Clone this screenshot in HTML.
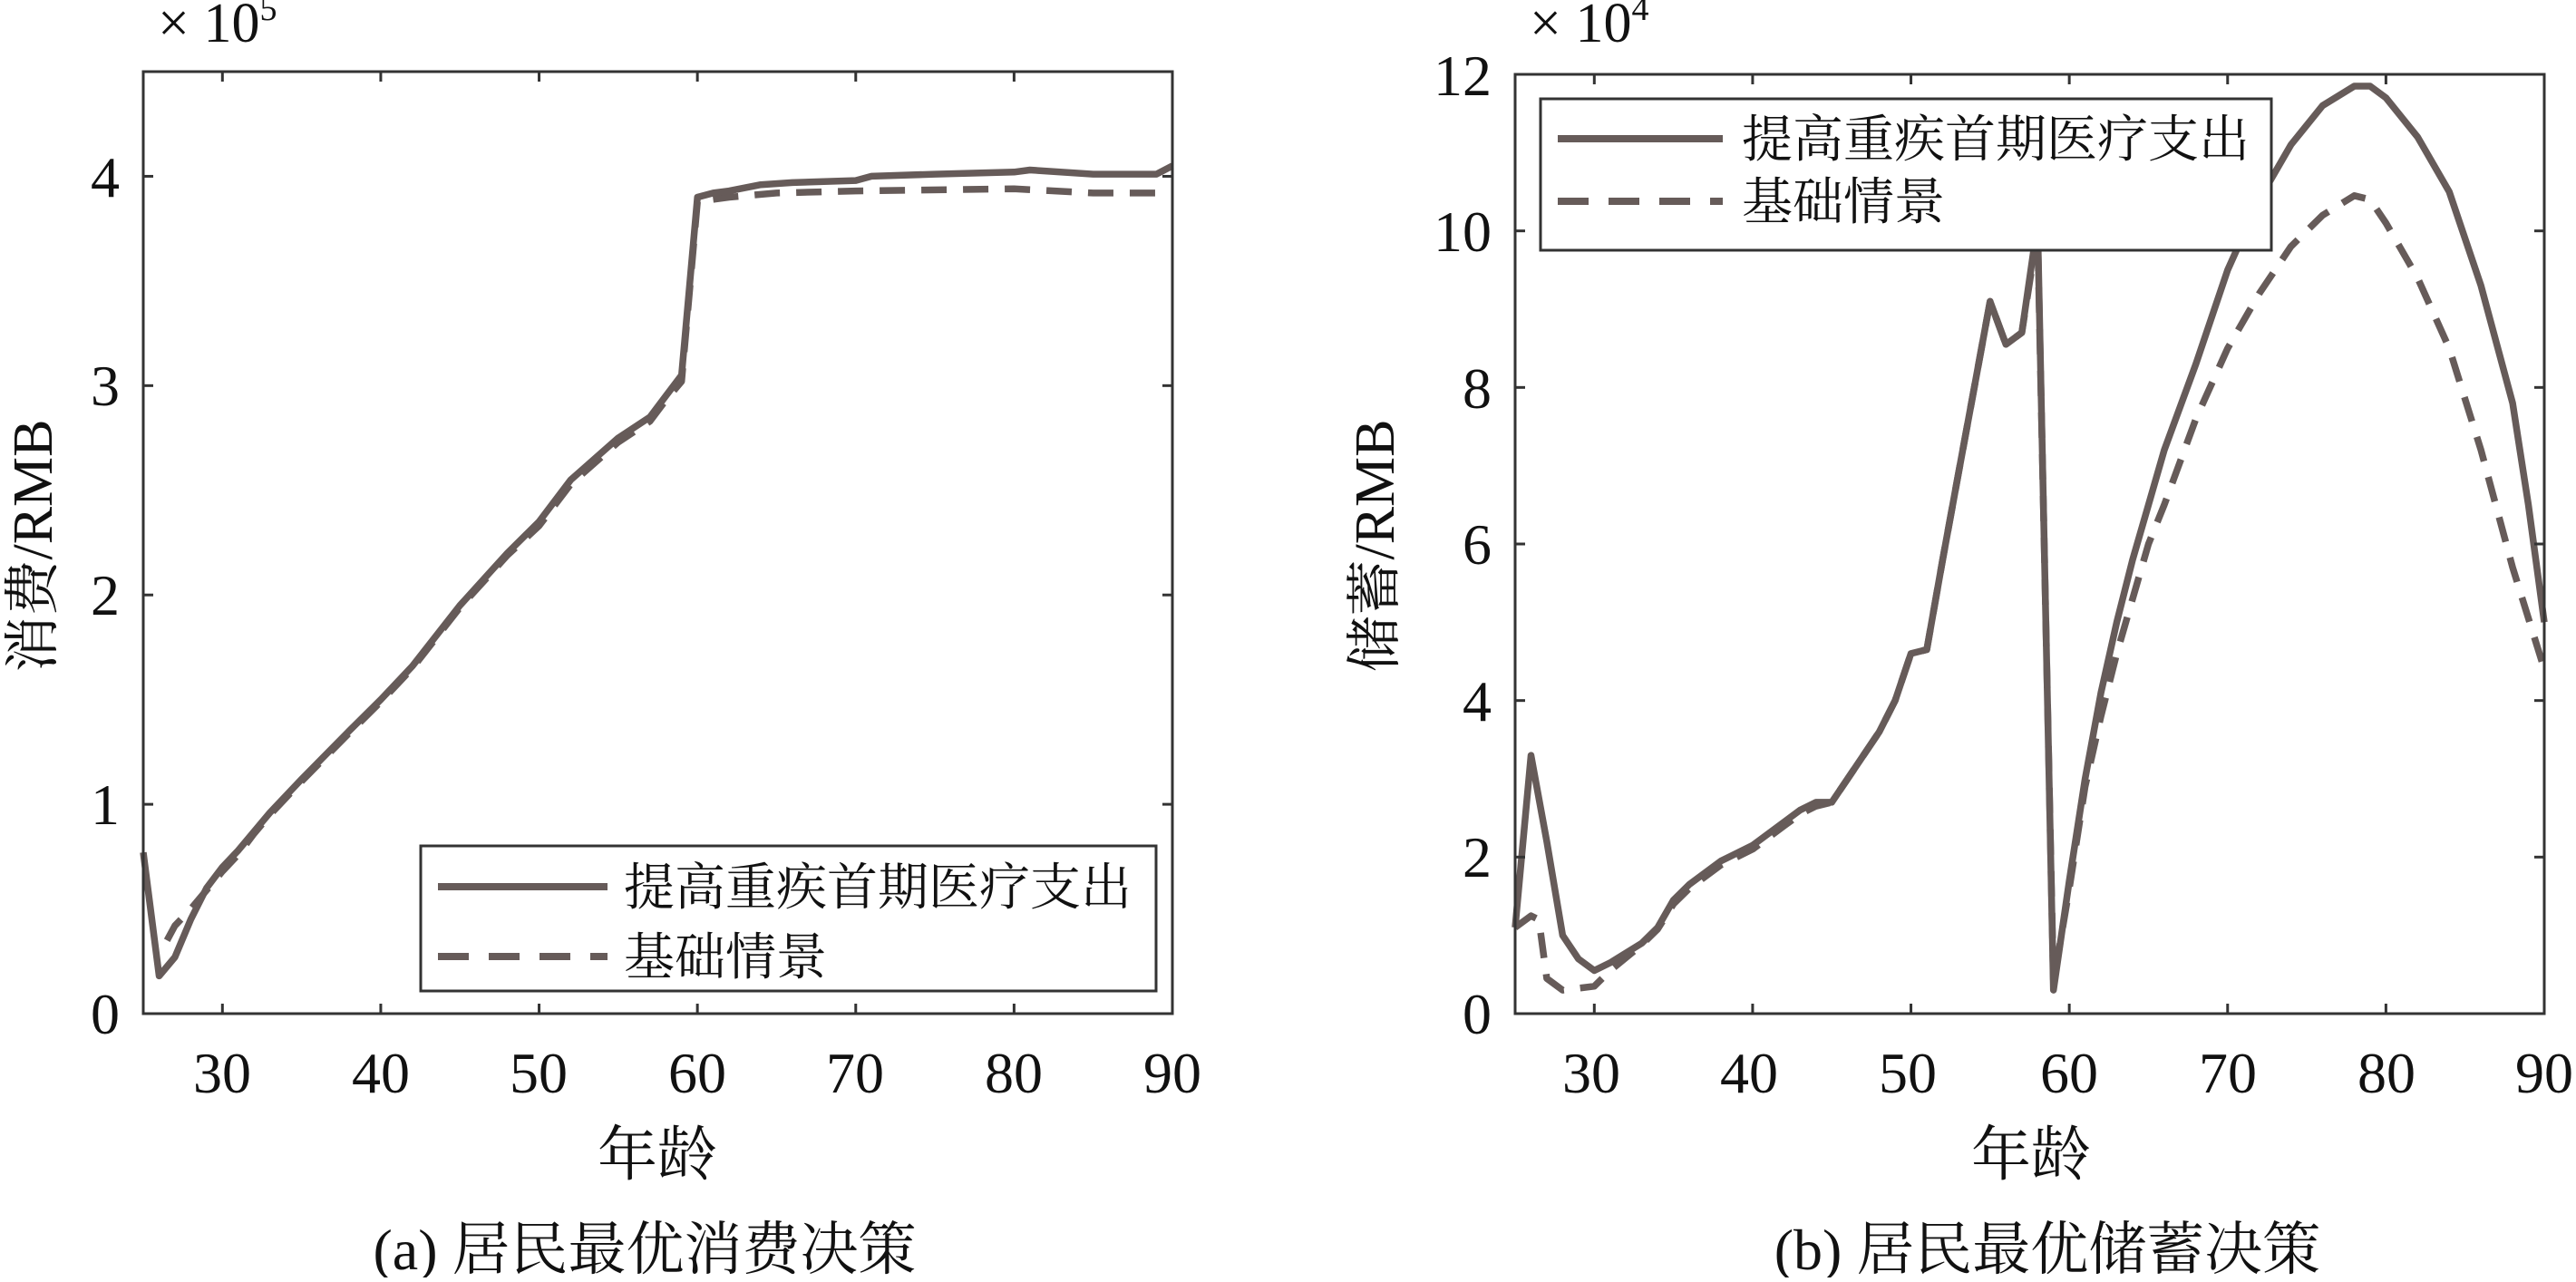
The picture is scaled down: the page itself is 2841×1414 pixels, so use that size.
<!DOCTYPE html>
<html><head><meta charset="utf-8"><style>
html,body{margin:0;padding:0;background:#fff;}
svg text{fill:#111;}
.n{font-family:"Liberation Serif","DejaVu Serif","Times New Roman",serif;}
.c{font-family:"Liberation Serif","Noto Serif CJK SC","DejaVu Serif",serif;}
</style></head><body>
<svg id="s" width="2841" height="1409" viewBox="0 0 2841 1409" xmlns="http://www.w3.org/2000/svg">
<g id="A"></g>
<g font-size="64" text-anchor="middle" class="n">
<text class="n" x="245" y="1205">30</text><text class="n" x="420" y="1205">40</text><text class="n" x="594" y="1205">50</text><text class="n" x="769" y="1205">60</text><text class="n" x="943" y="1205">70</text><text class="n" x="1118" y="1205">80</text><text class="n" x="1293" y="1205">90</text>
<text class="n" x="1755" y="1205">30</text><text class="n" x="1929" y="1205">40</text><text class="n" x="2104" y="1205">50</text><text class="n" x="2282" y="1205">60</text><text class="n" x="2457" y="1205">70</text><text class="n" x="2632" y="1205">80</text><text class="n" x="2806" y="1205">90</text>
</g>
<g font-size="64" text-anchor="end" class="n">
<text class="n" x="132" y="1140">0</text><text class="n" x="132" y="909">1</text><text class="n" x="132" y="678">2</text><text class="n" x="132" y="447">3</text><text class="n" x="132" y="217">4</text>
<text class="n" x="1645" y="1140">0</text><text class="n" x="1645" y="967">2</text><text class="n" x="1645" y="795">4</text><text class="n" x="1645" y="622">6</text><text class="n" x="1645" y="450">8</text><text class="n" x="1645" y="277">10</text><text class="n" x="1645" y="105">12</text>
</g>
<text class="n" x="174" y="46" font-size="62">× 10<tspan font-size="38" dy="-24">5</tspan></text>
<text class="n" x="1687" y="46" font-size="62">× 10<tspan font-size="38" dy="-24">4</tspan></text>
<text class="c" x="725" y="1296" font-size="66" text-anchor="middle">年龄</text>
<text class="c" x="2240" y="1296" font-size="66" text-anchor="middle">年龄</text>
<text class="c" transform="translate(57,602) rotate(-90)" font-size="62" text-anchor="middle">消费/RMB</text>
<text class="c" transform="translate(1537,602) rotate(-90)" font-size="62" text-anchor="middle">储蓄/RMB</text>
<text class="c" x="711" y="1400" font-size="64" text-anchor="middle">(a) 居民最优消费决策</text>
<text class="c" x="2258" y="1400" font-size="64" text-anchor="middle">(b) 居民最优储蓄决策</text>
</svg>
<script>
var NS="http://www.w3.org/2000/svg",g=document.getElementById("A");
function el(t,a){var e=document.createElementNS(NS,t);for(var k in a)e.setAttribute(k,a[k]);g.appendChild(e);return e;}
var col="#665b59";
function plot(L,T,R,B,ymax,yticks,solid,dash){
  var sx=(R-L)/65,sy=(B-T)/ymax;
  function pts(d){return d.map(function(p){return (L+(p[0]-25)*sx).toFixed(1)+","+(B-p[1]*sy).toFixed(1)}).join(" ");}
  el("polyline",{points:pts(dash),fill:"none",stroke:col,"stroke-width":7.5,"stroke-dasharray":"28 18","stroke-linejoin":"round"});
  el("polyline",{points:pts(solid),fill:"none",stroke:col,"stroke-width":7.5,"stroke-linejoin":"round"});
  el("rect",{x:L,y:T,width:R-L,height:B-T,fill:"none",stroke:"#333","stroke-width":3});
  for(var a=30;a<=90;a+=10){var x=L+(a-25)*sx;el("line",{x1:x,x2:x,y1:B,y2:B-11,stroke:"#333","stroke-width":3});el("line",{x1:x,x2:x,y1:T,y2:T+11,stroke:"#333","stroke-width":3});}
  yticks.forEach(function(v){var y=B-v*sy;el("line",{x1:L,x2:L+11,y1:y,y2:y,stroke:"#333","stroke-width":3});el("line",{x1:R,x2:R-11,y1:y,y2:y,stroke:"#333","stroke-width":3});});
}
var cS=[[25,0.77],[26,0.18],[27,0.27],[28,0.45],[29,0.6],[30,0.7],[31,0.78],[32,0.87],[33,0.96],[35,1.12],[38,1.35],[40,1.5],[42,1.66],[45,1.95],[48,2.2],[50,2.35],[52,2.55],[55,2.75],[57,2.85],[58,2.95],[59,3.05],[60,3.9],[61,3.92],[62,3.93],[64,3.96],[66,3.97],[70,3.98],[71,4.0],[75,4.01],[80,4.02],[81,4.03],[85,4.01],[89,4.01],[90,4.05]];
var cD=[[26.5,0.35],[27,0.42],[28,0.5],[30,0.68],[31,0.76],[32,0.86],[33,0.95],[35,1.11],[38,1.34],[40,1.49],[42,1.65],[45,1.94],[48,2.19],[50,2.33],[52,2.53],[55,2.73],[57,2.83],[58,2.93],[59,3.02],[60,3.88],[62,3.9],[65,3.92],[70,3.93],[80,3.94],[85,3.92],[90,3.92]];
plot(158,79,1293,1118,4.5,[0,1,2,3,4],cS,cD);
var sS=[[25,1.1],[26,3.3],[27,2.2],[28,1.0],[29,0.7],[30,0.55],[31,0.65],[33,0.9],[34,1.1],[35,1.45],[36,1.65],[38,1.95],[40,2.15],[42,2.45],[43,2.6],[44,2.7],[45,2.7],[46,3.0],[48,3.6],[49,4.0],[50,4.6],[51,4.65],[52,5.8],[53,6.9],[54,8.0],[55,9.1],[56,8.55],[57,8.7],[58,10.1],[59,0.3],[60,1.7],[61,3.0],[62,4.1],[63,5.0],[64,5.8],[65,6.5],[66,7.2],[68,8.3],[70,9.5],[72,10.4],[74,11.1],[76,11.6],[78,11.85],[79,11.85],[80,11.7],[82,11.2],[84,10.5],[86,9.3],[88,7.8],[89,6.5],[90,5.0]];
var sD=[[25,1.1],[26,1.25],[26.5,1.2],[27,0.45],[28,0.3],[30,0.35],[31,0.55],[33,0.88],[34,1.08],[35,1.4],[36,1.6],[38,1.9],[40,2.1],[42,2.4],[43,2.55],[44,2.65],[45,2.7],[46,3.0],[48,3.6],[49,4.0],[50,4.6],[51,4.65],[52,5.8],[53,6.9],[54,8.0],[55,9.1],[56,8.55],[57,8.7],[58,10.0],[59,0.4],[60,1.6],[61,2.9],[62,3.8],[63,4.6],[64,5.3],[65,6.0],[66,6.5],[68,7.6],[70,8.5],[72,9.2],[74,9.8],[76,10.2],[78,10.45],[79,10.4],[80,10.1],[82,9.4],[84,8.5],[86,7.2],[88,5.7],[90,4.4]];
plot(1671,82,2806,1118,12,[0,2,4,6,8,10,12],sS,sD);
function legend(x,y,w,h,lx1,lx2,y1,y2,tx){
  el("rect",{x:x,y:y,width:w,height:h,fill:"#fff",stroke:"#333","stroke-width":3});
  el("line",{x1:lx1,x2:lx2,y1:y1,y2:y1,stroke:col,"stroke-width":8});
  el("line",{x1:lx1,x2:lx2,y1:y2,y2:y2,stroke:col,"stroke-width":8,"stroke-dasharray":"34 22"});
  var t=el("text",{x:tx,y:y1+20,"font-size":56,"class":"c"});t.textContent="提高重疾首期医疗支出";
  t=el("text",{x:tx,y:y2+20,"font-size":56,"class":"c"});t.textContent="基础情景";
}
legend(464,933,811,160,483,670,978,1055,688);
legend(1699,109,806,167,1718,1900,153,222,1921);
</script>
</body></html>
